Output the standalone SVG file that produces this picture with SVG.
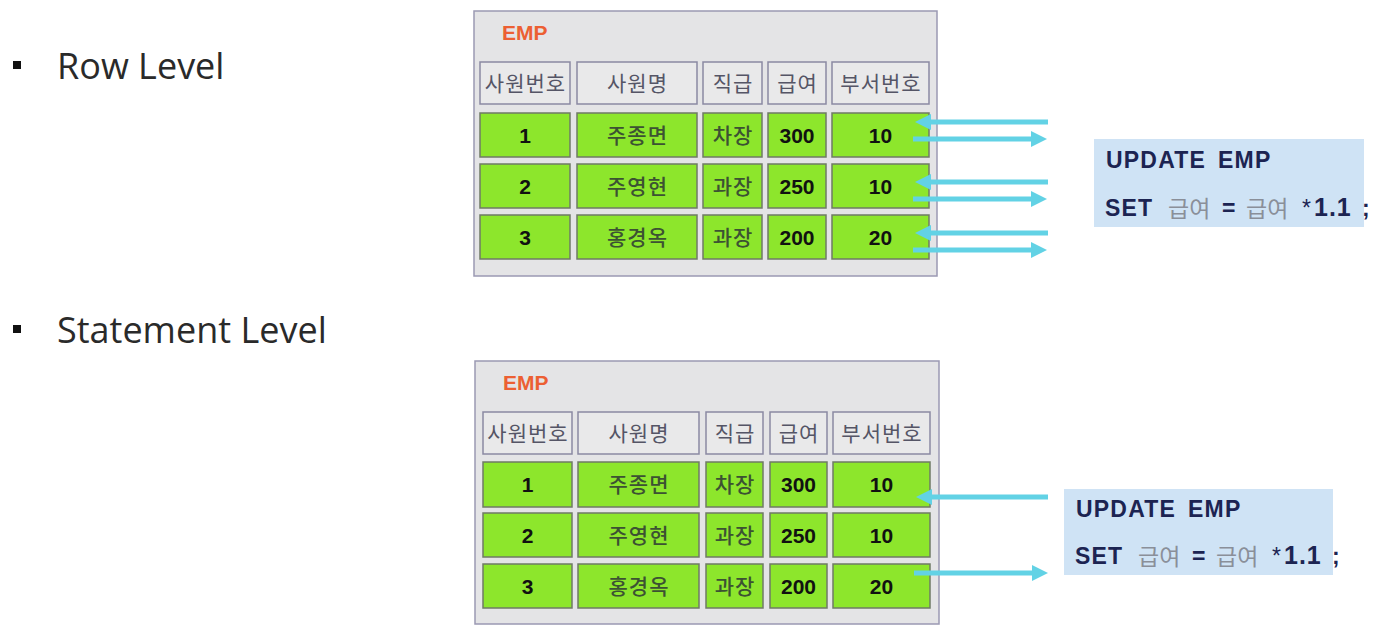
<svg xmlns="http://www.w3.org/2000/svg" width="1381" height="633" viewBox="0 0 1381 633">
<style>
.bg{fill:#ffffff}
.panel{fill:#e4e4e6;stroke:#9b99b3;stroke-width:1.5}
.hdr{fill:#e9e9ea;stroke:#8a89a3;stroke-width:1.5}
.cell{fill:#8de62c;stroke:#6f7a66;stroke-width:1.5}
.title{font-family:"Liberation Sans",Arial,sans-serif;font-weight:bold;font-size:21px;fill:#ec5f33}
.ht{font-family:"Noto Sans CJK KR","Noto Sans",sans-serif;font-size:21px;fill:#555566;text-anchor:middle;letter-spacing:1px}
.kt{font-family:"Noto Sans CJK KR","Noto Sans",sans-serif;font-size:21px;font-weight:500;fill:#3c5233;text-anchor:middle;letter-spacing:1px}
.nt{font-family:"Liberation Sans",Arial,sans-serif;font-weight:bold;font-size:21px;fill:#111;text-anchor:middle}
.lbl{font-family:"Open Sans","Noto Sans",sans-serif;font-size:36px;fill:#2a2a2a}
.sqlbox{fill:#cfe3f5}
.sql{font-family:"Liberation Sans",Arial,sans-serif;font-weight:bold;font-size:23px;fill:#1c2452;letter-spacing:1.2px}
.sqlk{font-family:"Noto Sans CJK KR","Noto Sans",sans-serif;font-weight:normal;font-size:23px;fill:#8a8f99}
.sqln{font-family:"Liberation Sans",Arial,sans-serif;font-weight:normal;font-size:23px;fill:#1c2452}
.num{font-size:25px;letter-spacing:1px}
.arr{stroke:#62d2e5;stroke-width:5;fill:none;marker-end:url(#ah)}
</style>
<defs>
<marker id="ah" markerUnits="userSpaceOnUse" markerWidth="16" markerHeight="16" refX="2" refY="8" orient="auto">
<path d="M0,0 L16,8 L0,16 z" fill="#62d2e5"/>
</marker>
</defs>
<rect class="bg" x="0" y="0" width="1381" height="633"/>

<g id="label-row">
<rect x="13" y="61" width="8" height="8" fill="#111"/>
<text class="lbl" x="57" y="79">Row Level</text>
</g>
<g id="label-statement">
<rect x="13" y="325" width="8" height="8" fill="#111"/>
<text class="lbl" x="57" y="343">Statement Level</text>
</g>

<g id="emp-row">
<rect class="panel" x="474" y="11" width="463" height="265"/>
<text class="title" x="502" y="40">EMP</text>
<rect class="hdr" x="480" y="62" width="90" height="42"/>
<rect class="hdr" x="577" y="62" width="120" height="42"/>
<rect class="hdr" x="703" y="62" width="59" height="42"/>
<rect class="hdr" x="768" y="62" width="58" height="42"/>
<rect class="hdr" x="832" y="62" width="97" height="42"/>
<text class="ht" x="525.5" y="91">사원번호</text>
<text class="ht" x="637.5" y="91">사원명</text>
<text class="ht" x="733" y="91">직급</text>
<text class="ht" x="797.5" y="91">급여</text>
<text class="ht" x="881" y="91">부서번호</text>

<rect class="cell" x="480" y="113" width="90" height="44"/>
<rect class="cell" x="577" y="113" width="120" height="44"/>
<rect class="cell" x="703" y="113" width="59" height="44"/>
<rect class="cell" x="768" y="113" width="58" height="44"/>
<rect class="cell" x="832" y="113" width="97" height="44"/>
<text class="nt" x="525" y="143">1</text>
<text class="kt" x="637.5" y="143">주종면</text>
<text class="kt" x="733" y="143">차장</text>
<text class="nt" x="797" y="143">300</text>
<text class="nt" x="880.5" y="143">10</text>

<rect class="cell" x="480" y="164" width="90" height="44"/>
<rect class="cell" x="577" y="164" width="120" height="44"/>
<rect class="cell" x="703" y="164" width="59" height="44"/>
<rect class="cell" x="768" y="164" width="58" height="44"/>
<rect class="cell" x="832" y="164" width="97" height="44"/>
<text class="nt" x="525" y="194">2</text>
<text class="kt" x="637.5" y="194">주영현</text>
<text class="kt" x="733" y="194">과장</text>
<text class="nt" x="797" y="194">250</text>
<text class="nt" x="880.5" y="194">10</text>

<rect class="cell" x="480" y="215" width="90" height="44"/>
<rect class="cell" x="577" y="215" width="120" height="44"/>
<rect class="cell" x="703" y="215" width="59" height="44"/>
<rect class="cell" x="768" y="215" width="58" height="44"/>
<rect class="cell" x="832" y="215" width="97" height="44"/>
<text class="nt" x="525" y="245">3</text>
<text class="kt" x="637.5" y="245">홍경옥</text>
<text class="kt" x="733" y="245">과장</text>
<text class="nt" x="797" y="245">200</text>
<text class="nt" x="880.5" y="245">20</text>
</g>

<g id="sql-row">
<rect class="sqlbox" x="1094" y="139" width="270" height="88"/>
<text class="sql" x="1106" y="168">UPDATE<tspan x="1218">EMP</tspan></text>
<text class="sql" x="1105" y="216">SET</text>
<text class="sqlk" x="1168" y="217">급여</text>
<text class="sql" x="1222" y="216">=</text>
<text class="sqlk" x="1246" y="217">급여</text>
<text class="sqln" x="1302" y="216">*</text>
<text class="sql num" x="1314" y="216">1.1</text>
<text class="sql" x="1362" y="216">;</text>
</g>

<g id="emp-statement">
<rect class="panel" x="475" y="361" width="464" height="263"/>
<text class="title" x="503" y="390">EMP</text>
<rect class="hdr" x="483" y="412" width="89" height="42"/>
<rect class="hdr" x="578" y="412" width="121" height="42"/>
<rect class="hdr" x="706" y="412" width="57" height="42"/>
<rect class="hdr" x="770" y="412" width="57" height="42"/>
<rect class="hdr" x="833" y="412" width="97" height="42"/>
<text class="ht" x="528" y="441">사원번호</text>
<text class="ht" x="639" y="441">사원명</text>
<text class="ht" x="735" y="441">직급</text>
<text class="ht" x="799" y="441">급여</text>
<text class="ht" x="882" y="441">부서번호</text>

<rect class="cell" x="483" y="462" width="89" height="45"/>
<rect class="cell" x="578" y="462" width="121" height="45"/>
<rect class="cell" x="706" y="462" width="57" height="45"/>
<rect class="cell" x="770" y="462" width="57" height="45"/>
<rect class="cell" x="833" y="462" width="97" height="45"/>
<text class="nt" x="527.5" y="492">1</text>
<text class="kt" x="639" y="492">주종면</text>
<text class="kt" x="735" y="492">차장</text>
<text class="nt" x="798.5" y="492">300</text>
<text class="nt" x="881.5" y="492">10</text>

<rect class="cell" x="483" y="513" width="89" height="44"/>
<rect class="cell" x="578" y="513" width="121" height="44"/>
<rect class="cell" x="706" y="513" width="57" height="44"/>
<rect class="cell" x="770" y="513" width="57" height="44"/>
<rect class="cell" x="833" y="513" width="97" height="44"/>
<text class="nt" x="527.5" y="543">2</text>
<text class="kt" x="639" y="543">주영현</text>
<text class="kt" x="735" y="543">과장</text>
<text class="nt" x="798.5" y="543">250</text>
<text class="nt" x="881.5" y="543">10</text>

<rect class="cell" x="483" y="564" width="89" height="44"/>
<rect class="cell" x="578" y="564" width="121" height="44"/>
<rect class="cell" x="706" y="564" width="57" height="44"/>
<rect class="cell" x="770" y="564" width="57" height="44"/>
<rect class="cell" x="833" y="564" width="97" height="44"/>
<text class="nt" x="527.5" y="594">3</text>
<text class="kt" x="639" y="594">홍경옥</text>
<text class="kt" x="735" y="594">과장</text>
<text class="nt" x="798.5" y="594">200</text>
<text class="nt" x="881.5" y="594">20</text>
</g>

<g id="sql-statement">
<rect class="sqlbox" x="1064" y="489" width="269" height="86"/>
<text class="sql" x="1076" y="517">UPDATE<tspan x="1188">EMP</tspan></text>
<text class="sql" x="1075" y="564">SET</text>
<text class="sqlk" x="1138" y="565">급여</text>
<text class="sql" x="1192" y="564">=</text>
<text class="sqlk" x="1216" y="565">급여</text>
<text class="sqln" x="1272" y="564">*</text>
<text class="sql num" x="1284" y="564">1.1</text>
<text class="sql" x="1332" y="564">;</text>
</g>

<g id="connectors">
<line class="arr" x1="1048" y1="122" x2="929" y2="122"/>
<line class="arr" x1="913" y1="139" x2="1033" y2="139"/>
<line class="arr" x1="1048" y1="182" x2="929" y2="182"/>
<line class="arr" x1="913" y1="199" x2="1033" y2="199"/>
<line class="arr" x1="1048" y1="233" x2="929" y2="233"/>
<line class="arr" x1="913" y1="250" x2="1033" y2="250"/>
<line class="arr" x1="1048" y1="497" x2="930" y2="497"/>
<line class="arr" x1="914" y1="573" x2="1034" y2="573"/>
</g>
</svg>
